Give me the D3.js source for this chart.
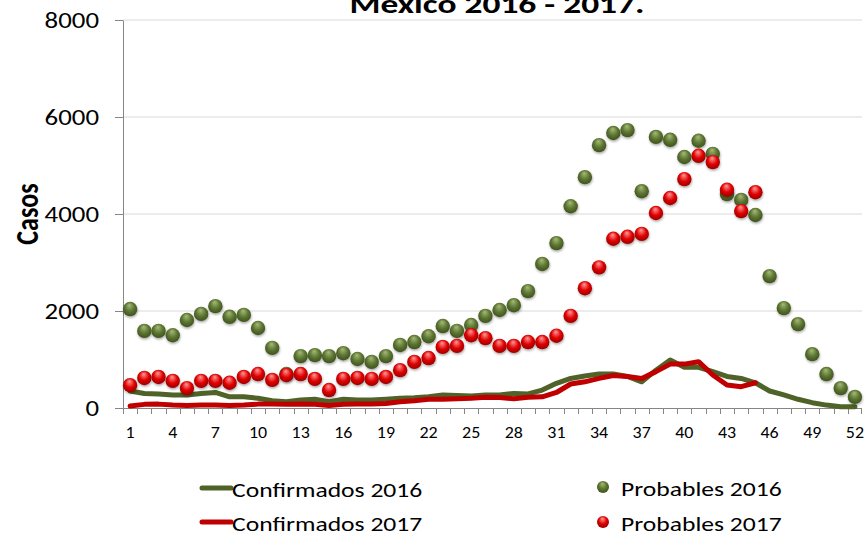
<!DOCTYPE html>
<html>
<head>
<meta charset="utf-8">
<script src="https://d3js.org/d3.v7.min.js"></script>
<style>
  body { margin: 0; background: #fff; }
  svg text { font-family: Carlito, Calibri, Lato, sans-serif; fill: #000; }
</style>
</head>
<body>
<svg id="chart" width="865" height="535"></svg>
<script>
// semanas epidemiologicas
var weeks = d3.range(1, 53);
var xLabels = [1, 4, 7, 10, 13, 16, 19, 22, 25, 28, 31, 34, 37, 40, 43, 46, 49, 52];
var yTicks = [0, 2000, 4000, 6000, 8000];

var confirmados2016 = [350, 300, 290, 270, 270, 300, 320, 230, 230, 200, 150, 130, 165, 180, 130, 180, 165, 165, 180, 200,
  210, 230, 270, 260, 250, 270, 270, 300, 290, 370, 510, 610, 660, 700, 700, 650, 540, 780, 990, 840,
  840, 750, 650, 610, 520, 350, 270, 180, 110, 60, 25, 25];
var confirmados2017 = [40, 75, 80, 60, 50, 60, 60, 50, 60, 80, 80, 75, 80, 75, 50, 75, 80, 80, 95, 130,
  150, 180, 180, 190, 200, 220, 215, 190, 220, 230, 320, 495, 540, 610, 670, 650, 610, 750, 905, 905,
  955, 680, 475, 440, 520];
var probables2016 = [2040, 1590, 1590, 1500, 1815, 1940, 2100, 1880, 1920, 1650, 1240, 700, 1070, 1090, 1070, 1130, 1010, 950, 1070, 1300,
  1360, 1480, 1690, 1590, 1710, 1900, 2020, 2120, 2410, 2970, 3400, 4160, 4760, 5420, 5670, 5730, 4470, 5590, 5530, 5175,
  5510, 5240, 4410, 4290, 3980, 2720, 2060, 1730, 1110, 700, 410, 230];
var probables2017 = [470, 620, 640, 560, 410, 560, 560, 520, 640, 700, 580, 680, 700, 600, 370, 600, 620, 600, 640, 780,
  950, 1030, 1260, 1280, 1500, 1440, 1280, 1280, 1360, 1360, 1490, 1900, 2470, 2900, 3490, 3530, 3590, 4020, 4330, 4720,
  5200, 5070, 4500, 4060, 4450];

var svg = d3.select("#chart");
var margin = {top: 20, right: 3, bottom: 127, left: 123};
var width = 865 - margin.left - margin.right,
    height = 535 - margin.top - margin.bottom;

var x = d3.scaleBand().domain(weeks).range([0, width]);
var y = d3.scaleLinear().domain([0, 8000]).range([height, 0]);

// el texto original sale estirado a lo ancho
function stretch(sel, k) {
  sel.each(function() {
    var w = this.getComputedTextLength();
    d3.select(this).attr("textLength", w * k).attr("lengthAdjust", "spacingAndGlyphs");
  });
}

// gradientes para las bolitas
var defs = svg.append("defs");
function ball(id, c0, c1, c2) {
  var g = defs.append("radialGradient").attr("id", id)
    .attr("cx", "50%").attr("cy", "45%").attr("r", "60%")
    .attr("fx", "45%").attr("fy", "22%");
  g.append("stop").attr("offset", "0%").attr("stop-color", c0);
  g.append("stop").attr("offset", "55%").attr("stop-color", c1);
  g.append("stop").attr("offset", "100%").attr("stop-color", c2);
}
ball("gGreen", "#a7bb78", "#5b7431", "#3b4d1b");
ball("gRed", "#ff9a9a", "#e00000", "#8e0000");
var shadow = defs.append("filter").attr("id", "shadow")
  .attr("x", "-50%").attr("y", "-50%").attr("width", "200%").attr("height", "200%");
shadow.append("feDropShadow").attr("dx", 0.5).attr("dy", 1.5).attr("stdDeviation", 1)
  .attr("flood-color", "#000").attr("flood-opacity", 0.35);

var g = svg.append("g").attr("transform", "translate(" + margin.left + "," + margin.top + ")");

// grid
g.selectAll(".grid").data(yTicks.slice(1)).enter().append("line")
  .attr("x1", 0).attr("x2", width)
  .attr("y1", function(d) { return y(d); }).attr("y2", function(d) { return y(d); })
  .attr("stroke", "#d9d9d9").attr("stroke-width", 1);

// eje y
var yAxis = g.append("g").call(d3.axisLeft(y).tickValues(yTicks).tickSize(8).tickPadding(16).tickFormat(d3.format("d")));
yAxis.select(".domain").attr("stroke", "#868686").attr("d", "M0.5," + height + "V0.5");
yAxis.selectAll(".tick line").attr("stroke", "#868686");
yAxis.selectAll("text").style("font-size", "22px").attr("dy", "0.34em").call(stretch, 1.22);

// eje x
var xAxis = g.append("g").attr("transform", "translate(0," + height + ")");
xAxis.append("line").attr("x1", 0).attr("x2", width).attr("y1", 0.5).attr("y2", 0.5).attr("stroke", "#868686");
xAxis.selectAll(".xt").data(weeks.concat([null])).enter().append("line")
  .attr("x1", function(d) { return d === null ? width - 0.5 : Math.round(x(d)) + 0.5; })
  .attr("x2", function(d) { return d === null ? width - 0.5 : Math.round(x(d)) + 0.5; })
  .attr("y1", 0).attr("y2", 6).attr("stroke", "#868686");
xAxis.selectAll(".xl").data(xLabels).enter().append("text")
  .attr("x", function(d) { return x(d) + x.bandwidth() / 2; })
  .attr("y", 30).attr("text-anchor", "middle").style("font-size", "16px")
  .text(function(d) { return d; })
  .call(stretch, 1.12);

// lineas
var line = d3.line()
  .x(function(d, i) { return x(weeks[i]) + x.bandwidth() / 2; })
  .y(function(d) { return y(d); });
g.append("path").datum(confirmados2016).attr("d", line)
  .attr("fill", "none").attr("stroke", "#4f6228").attr("stroke-width", 5)
  .attr("stroke-linejoin", "round").attr("stroke-linecap", "round");
g.append("path").datum(confirmados2017).attr("d", line)
  .attr("fill", "none").attr("stroke", "#c00000").attr("stroke-width", 5)
  .attr("stroke-linejoin", "round").attr("stroke-linecap", "round");

// puntos
function dots(data, fill) {
  g.append("g").selectAll("circle").data(data).enter().append("circle")
    .attr("cx", function(d, i) { return x(weeks[i]) + x.bandwidth() / 2; })
    .attr("cy", function(d) { return y(d); })
    .attr("r", 7.2)
    .attr("fill", fill).attr("filter", "url(#shadow)");
}
dots(probables2016, "url(#gGreen)");
dots(probables2017, "url(#gRed)");

// titulo
svg.append("text").attr("x", 497).attr("y", 13).attr("text-anchor", "middle")
  .style("font-size", "26px").style("font-weight", "bold").text("Mexico 2016 - 2017.")
  .attr("textLength", 295).attr("lengthAdjust", "spacingAndGlyphs");

// etiqueta eje y
svg.append("text").attr("transform", "translate(38,214) scale(1.25,1) rotate(-90)")
  .attr("text-anchor", "middle").style("font-size", "26px").style("font-weight", "bold")
  .text("Casos");

// leyenda
var legend = [
  {name: "Confirmados 2016", type: "line", color: "#4f6228", x: 200, y: 488},
  {name: "Confirmados 2017", type: "line", color: "#c00000", x: 200, y: 522},
  {name: "Probables 2016", type: "dot", color: "url(#gGreen)", x: 603, y: 487},
  {name: "Probables 2017", type: "dot", color: "url(#gRed)", x: 603, y: 522}
];
var lg = svg.append("g").selectAll("g").data(legend).enter().append("g")
  .attr("transform", function(d) { return "translate(" + d.x + "," + d.y + ")"; });
lg.filter(function(d) { return d.type === "line"; }).append("line")
  .attr("x1", 2).attr("x2", 31).attr("stroke", function(d) { return d.color; })
  .attr("stroke-width", 5).attr("stroke-linecap", "round");
lg.filter(function(d) { return d.type === "dot"; }).append("circle")
  .attr("r", 6).attr("fill", function(d) { return d.color; });
lg.append("text").attr("x", function(d) { return d.type === "line" ? 32 : 18; })
  .attr("y", 9).style("font-size", "20px").text(function(d) { return d.name; })
  .call(stretch, 1.28);
</script>
</body>
</html>
